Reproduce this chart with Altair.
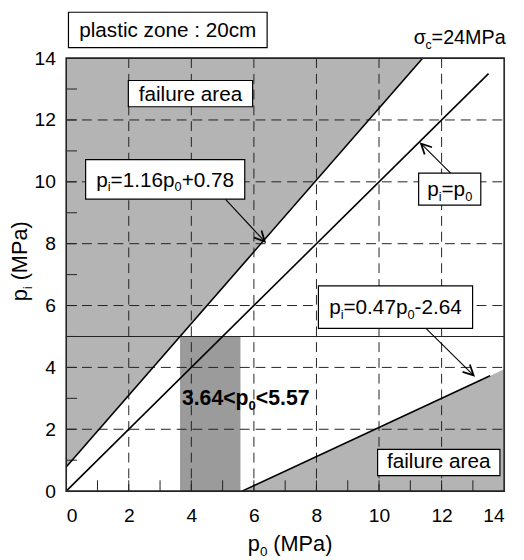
import altair as alt
import pandas as pd
import math

# ---------------- data ----------------
x_tick_values = [0, 2, 4, 6, 8, 10, 12, 14]
y_tick_values = [0, 2, 4, 6, 8, 10, 12, 14]
grid_values = [2, 4, 6, 8, 10, 12]
minor_values = [1, 2, 3, 4, 5, 6, 7, 8, 9, 10, 11, 12, 13]

# failure boundary lines (end points)
upper_line_x = [0.0, 11.40]
upper_line_y = [0.78, 14.0]
equal_line_x = [0.0, 13.5]
equal_line_y = [0.0, 13.5]
lower_line_x = [5.62, 13.55]
lower_line_y = [0.0, 3.73]

# shaded failure areas
upper_area_x = [0.0, 11.40]
upper_area_y = [0.78, 14.0]
lower_area_x = [5.62, 14.0]
lower_area_y = [0.0, 3.94]

# admissible range of p0
range_lo = 3.64
range_hi = 5.57
range_top = 5.0
hline_y = 5.0

# ---------------- layout ----------------
W, H = 444, 439
X0, Y0 = 67, 55          # page position of plot origin (top-left)
PXU_X = W / 14.0
PXU_Y = H / 14.0
FONT = "Liberation Sans"
LIGHT = "#b4b4b4"
DARK = "#9b9b9b"


def dx(px):
    return (px - X0) / PXU_X


def dy(py):
    return (Y0 + H - py) / PXU_Y


ARIAL = {
    " ": 278, "(": 333, ")": 333, "+": 584, "-": 333, ".": 278, ":": 278,
    "<": 584, "=": 584, "M": 833, "P": 667, "a": 556, "c": 500, "e": 556,
    "f": 278, "i": 222, "l": 222, "m": 833, "n": 556, "o": 556, "p": 556,
    "r": 333, "s": 500, "t": 278, "u": 556, "z": 500, "σ": 600,
}
ARIAL_BOLD = {"<": 584, ".": 278, "p": 611}


def cw(ch, bold):
    if ch.isdigit():
        return 556
    if bold:
        return ARIAL_BOLD.get(ch, 600)
    return ARIAL.get(ch, 556)


def text_width(t, size, bold=False):
    return sum(cw(c, bold) for c in t) * size / 1000.0


SUB = 0.62
SUBSHIFT = 0.22


def layout(parts, anchor, base, size, align="center", bold=False, rotate=False):
    # parts: (text, is_subscript, extra_gap_before_px)
    parts = [p if len(p) == 3 else (p[0], p[1], 0.0) for p in parts]
    sizes = [size * SUB if sub else size for _, sub, _ in parts]
    widths = [text_width(t, s, bold) + g for (t, _, g), s in zip(parts, sizes)]
    total = sum(widths)
    if align == "center":
        start = -total / 2
    elif align == "right":
        start = -total
    else:
        start = 0
    rows = []
    off = start
    for (t, sub, g), s, w in zip(parts, sizes, widths):
        shift = size * SUBSHIFT if sub else 0
        o = off + g
        if rotate:
            px = base + shift
            py = anchor - o
        else:
            px = anchor + o
            py = base + shift
        rows.append({"x": dx(px), "y": dy(py), "t": t, "s": s})
        off += w
    return rows


normal_rows = []
normal_rows += layout([("plastic zone : 20cm", 0)], 170.0, 34.0, 21)
normal_rows += layout([("failure area", 0)], 193.0, 98.5, 21)
normal_rows += layout([("failure area", 0)], 444.7, 471.0, 21)
normal_rows += layout([("p", 0), ("i", 1), ("=1.16", 0), ("p", 0), ("0", 1), ("+0.78", 0)], 167.3, 185.5, 21)
normal_rows += layout([("p", 0), ("i", 1), ("=", 0), ("p", 0), ("0", 1)], 455.8, 195.0, 21)
normal_rows += layout([("p", 0), ("i", 1), ("=0.47", 0), ("p", 0), ("0", 1), ("-2.64", 0)], 400.8, 314.5, 21)
normal_rows += layout([("σ", 0), ("c", 1), ("=24MPa", 0)], 512.5, 41.0, 20, align="right")
normal_rows += layout([("p", 0), ("0", 1), ("(MPa)", 0, 6.0)], 294.0, 555.0, 22)
rot_rows = layout([("p", 0), ("i", 1), ("(MPa)", 0, 6.0)], 261.0, 27.5, 22, rotate=True)
bold_rows = layout([("3.64<p", 0), ("0", 1), ("<5.57", 0)], 249.0, 407.0, 21.5, bold=True)

boxes = pd.DataFrame([
    {"x": dx(69.3), "x2": dx(270.7), "y": dy(8.5), "y2": dy(44.3)},
    {"x": dx(130.0), "x2": dx(256.0), "y": dy(77.7), "y2": dy(104.3)},
    {"x": dx(86.7), "x2": dx(248.0), "y": dy(158.0), "y2": dy(198.0)},
    {"x": dx(424.3), "x2": dx(487.3), "y": dy(171.7), "y2": dy(204.0)},
    {"x": dx(322.7), "x2": dx(479.0), "y": dy(286.0), "y2": dy(329.0)},
    {"x": dx(382.7), "x2": dx(506.7), "y": dy(451.7), "y2": dy(478.3)},
])

arrow_px = [((228.3, 198.0), (268.3, 241.0)),
            ((456.7, 171.7), (426.7, 141.7)),
            ((431.7, 329.0), (480.0, 376.7))]
arrow_lines = []
arrow_heads = []
for i, ((sx, sy), (ex, ey)) in enumerate(arrow_px):
    arrow_lines.append({"id": i, "o": 0, "x": dx(sx), "y": dy(sy)})
    arrow_lines.append({"id": i, "o": 1, "x": dx(ex), "y": dy(ey)})
    ang = math.degrees(math.atan2(ey - sy, ex - sx)) % 360
    arrow_heads.append({"x": dx(ex), "y": dy(ey), "ang": ang})

# ---------------- chart ----------------
xs = alt.Scale(domain=[0, 14], nice=False, zero=False)
ys = alt.Scale(domain=[0, 14], nice=False, zero=False)
xaxis = alt.Axis(values=x_tick_values, title=None, grid=False, ticks=False, domain=False,
                 labelFont=FONT, labelFontSize=19.5, labelColor="black", labelPadding=16,
                 format="d")
yaxis = alt.Axis(values=y_tick_values, title=None, grid=False, ticks=False, domain=False,
                 labelFont=FONT, labelFontSize=19.5, labelColor="black", labelPadding=11,
                 format="d")

up_df = pd.DataFrame({"x": upper_area_x, "y": upper_area_y, "y2": [14.0, 14.0]})
lo_df = pd.DataFrame({"x": lower_area_x, "y": lower_area_y, "y2": [0.0, 0.0]})

upper_area = alt.Chart(up_df).mark_area(color=LIGHT, opacity=1).encode(
    x=alt.X("x:Q", scale=xs, axis=xaxis), y=alt.Y("y:Q", scale=ys, axis=yaxis), y2="y2:Q")
lower_area = alt.Chart(lo_df).mark_area(color=LIGHT, opacity=1).encode(
    x=alt.X("x:Q", scale=xs), y=alt.Y("y:Q", scale=ys), y2="y2:Q")

rng = alt.Chart(pd.DataFrame({"a": [range_lo], "b": [range_hi], "c": [0.0], "d": [range_top]})).mark_rect(
    color=DARK, opacity=1).encode(x="a:Q", x2="b:Q", y="c:Q", y2="d:Q")

gdf = pd.DataFrame({"v": grid_values})
vgrid = alt.Chart(gdf).mark_rule(color="#222", strokeWidth=1, strokeDash=[10, 6]).encode(
    x="v:Q", y=alt.value(0), y2=alt.value(H))
hgrid = alt.Chart(gdf).mark_rule(color="#222", strokeWidth=1, strokeDash=[10, 6]).encode(
    y="v:Q", x=alt.value(0), x2=alt.value(W))

mdf = pd.DataFrame({"v": minor_values})
xminor = alt.Chart(mdf).mark_rule(color="#222", strokeWidth=1).encode(
    x="v:Q", y=alt.value(H), y2=alt.value(H - 11))
yminor = alt.Chart(mdf).mark_rule(color="#222", strokeWidth=1).encode(
    y="v:Q", x=alt.value(0), x2=alt.value(11))

hline = alt.Chart(pd.DataFrame({"v": [hline_y]})).mark_rule(color="#222", strokeWidth=1.2).encode(
    y="v:Q", x=alt.value(0), x2=alt.value(W))


def seg(xv, yv):
    return alt.Chart(pd.DataFrame({"x": xv, "y": yv})).mark_line(color="black", strokeWidth=1.6).encode(
        x="x:Q", y="y:Q")


line1 = seg(upper_line_x, upper_line_y)
line2 = seg(equal_line_x, equal_line_y)
line3 = seg(lower_line_x, lower_line_y)

frame = alt.Chart(pd.DataFrame({"k": [0]})).mark_rect(filled=False, stroke="#222", strokeWidth=1.6).encode(
    x=alt.value(0), x2=alt.value(W), y=alt.value(0), y2=alt.value(H))

arrows = alt.Chart(pd.DataFrame(arrow_lines)).mark_line(color="black", strokeWidth=1.1).encode(
    x="x:Q", y="y:Q", detail="id:N", order="o:Q")
heads = alt.Chart(pd.DataFrame(arrow_heads)).mark_point(
    shape="M -1 -0.5 L 0 0 L -1 0.5", filled=False, stroke="black", strokeWidth=1.8,
    size=440, opacity=1).encode(
    x="x:Q", y="y:Q", angle=alt.Angle("ang:Q", scale=None))

box_layer = alt.Chart(boxes).mark_rect(fill="white", stroke="black", strokeWidth=1.2).encode(
    x="x:Q", x2="x2:Q", y="y:Q", y2="y2:Q")

txt = alt.Chart(pd.DataFrame(normal_rows)).mark_text(
    align="left", baseline="alphabetic", font=FONT, color="black").encode(
    x="x:Q", y="y:Q", text="t:N", size=alt.Size("s:Q", scale=None))
txt_rot = alt.Chart(pd.DataFrame(rot_rows)).mark_text(
    align="left", baseline="alphabetic", font=FONT, color="black", angle=270).encode(
    x="x:Q", y="y:Q", text="t:N", size=alt.Size("s:Q", scale=None))
txt_bold = alt.Chart(pd.DataFrame(bold_rows)).mark_text(
    align="left", baseline="alphabetic", font=FONT, fontWeight="bold", color="black").encode(
    x="x:Q", y="y:Q", text="t:N", size=alt.Size("s:Q", scale=None))

chart = alt.layer(
    upper_area, lower_area, rng, vgrid, hgrid, xminor, yminor, hline,
    line1, line2, line3, frame, arrows, heads, box_layer, txt, txt_rot, txt_bold
).properties(
    width=W, height=H,
    autosize=alt.AutoSizeParams(type="none"),
    padding={"left": 59, "top": 47, "right": 12, "bottom": 64},
).configure_view(stroke=None).configure(background="white")

chart.save("out.html", embed_options={"renderer": "svg", "actions": False})
